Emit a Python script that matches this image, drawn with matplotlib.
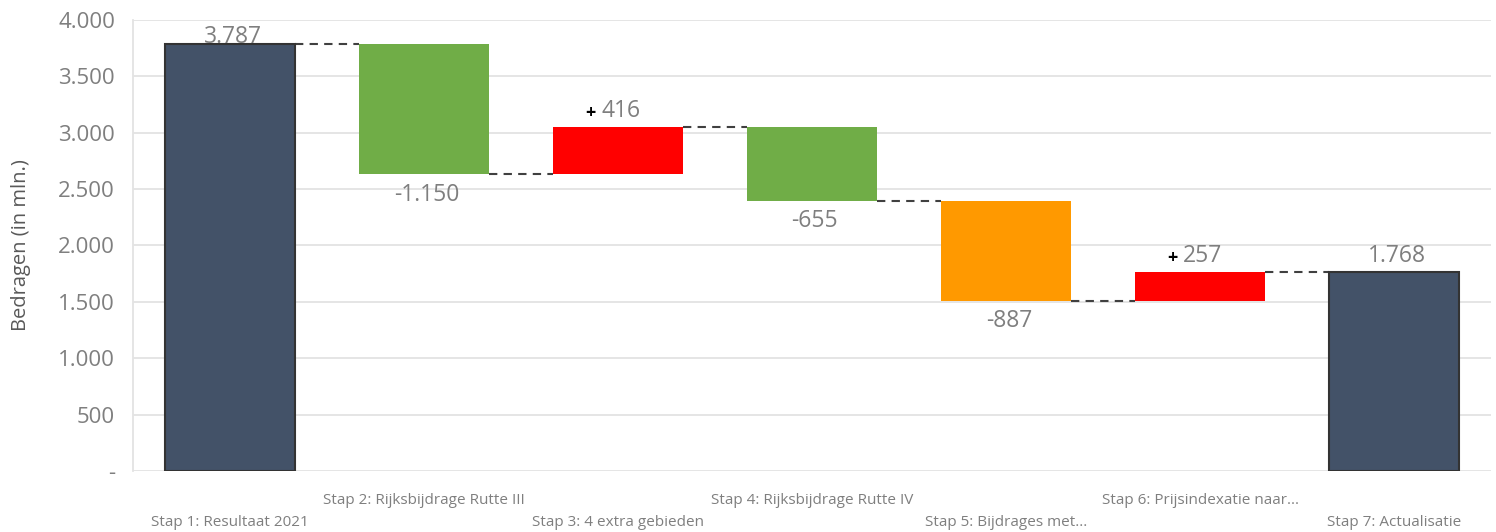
import matplotlib
matplotlib.use("Agg")
import matplotlib.pyplot as plt
import numpy as np

plt.rcParams['font.family'] = ['Open Sans', 'DejaVu Sans']

categories = ["Stap 1: Resultaat 2021", "Stap 2: Rijksbijdrage Rutte III",
              "Stap 3: 4 extra gebieden", "Stap 4: Rijksbijdrage Rutte IV",
              "Stap 5: Bijdrages met...", "Stap 6: Prijsindexatie naar...",
              "Stap 7: Actualisatie"]
values = [3787, -1150, 416, -655, -887, 257, 1768]
is_total = [True, False, False, False, False, False, True]
bar_colors = ["#435268", "#70AD47", "#FF0000", "#70AD47", "#FF9900", "#FF0000", "#435268"]
yticks = [0, 500, 1000, 1500, 2000, 2500, 3000, 3500, 4000]
ytick_labels = ["-", "500", "1.000", "1.500", "2.000", "2.500", "3.000", "3.500", "4.000"]

def fmt(v):
    s = f"{abs(v):,}".replace(",", ".")
    return ("-" + s) if v < 0 else s

fig = plt.figure(figsize=(14.96, 5.32), dpi=100)
ax = fig.add_axes([0.0889, 0.1147, 0.9078, 0.8477])

gray = "#7f7f7f"
width = 0.67
x = np.arange(len(categories))

bottoms, heights, levels = [], [], []
running = 0
for v, tot in zip(values, is_total):
    if tot:
        bottoms.append(0); heights.append(v); running = v
    else:
        b = min(running, running + v)
        bottoms.append(b); heights.append(abs(v)); running += v
    levels.append(running)

for i in range(len(values)):
    if is_total[i]:
        ax.bar(x[i], heights[i], bottom=bottoms[i], width=width, color=bar_colors[i],
               edgecolor="#333333", linewidth=1.5, zorder=3)
    else:
        ax.bar(x[i], heights[i], bottom=bottoms[i], width=width, color=bar_colors[i],
               edgecolor="none", linewidth=0, zorder=3)

# connectors
for i in range(len(values) - 1):
    ax.plot([x[i] + width / 2, x[i + 1] - width / 2], [levels[i], levels[i]],
            color="#404040", linestyle=(0, (4, 3)), linewidth=1.5, zorder=2)

# data labels
for i, v in enumerate(values):
    top = bottoms[i] + heights[i]
    if is_total[i] or v > 0:
        off = 11 if top < 3700 else 5
        t = ax.annotate(fmt(v), xy=(x[i], top), xytext=(2, off), textcoords="offset points",
                        ha="center", va="center", fontsize=16.5, color=gray, zorder=5)
        if not is_total[i]:
            ax.annotate("+", xy=(0, 0.45), xycoords=t, xytext=(-4, 0), textcoords="offset points",
                        ha="right", va="center", fontsize=13, color="black",
                        fontweight="bold", zorder=5)
    else:
        ax.annotate(fmt(v), xy=(x[i], bottoms[i]), xytext=(2, -15), textcoords="offset points",
                    ha="center", va="center", fontsize=16.5, color=gray, zorder=5)

ax.set_ylim(0, 4000)
ax.set_xlim(-0.5, len(values) - 0.5)
ax.set_yticks(yticks)
ax.set_yticklabels(ytick_labels)
ax.tick_params(axis="y", length=0, pad=13, labelsize=16, labelcolor=gray)
ax.grid(axis="y", color="#e3e3e3", linewidth=1.3, zorder=0)

upper = x[1::2]
lower = x[0::2]
ax.set_xticks(upper)
ax.set_xticklabels([categories[i] for i in upper])
ax.set_xticks(lower, minor=True)
ax.set_xticklabels([categories[i] for i in lower], minor=True)
ax.tick_params(axis="x", which="major", length=0, pad=16, labelsize=11, labelcolor=gray)
ax.tick_params(axis="x", which="minor", length=0, pad=32, labelsize=11, labelcolor=gray)

for s in ["top", "right", "bottom"]:
    ax.spines[s].set_visible(False)
ax.spines["left"].set_color("#e3e3e3")
ax.spines["left"].set_linewidth(1.3)

ax.set_ylabel("Bedragen (in mln.)", fontsize=14.5, color="#595959")
ax.yaxis.set_label_coords(-0.075, 0.5)

fig.savefig("out.png", dpi=100)
